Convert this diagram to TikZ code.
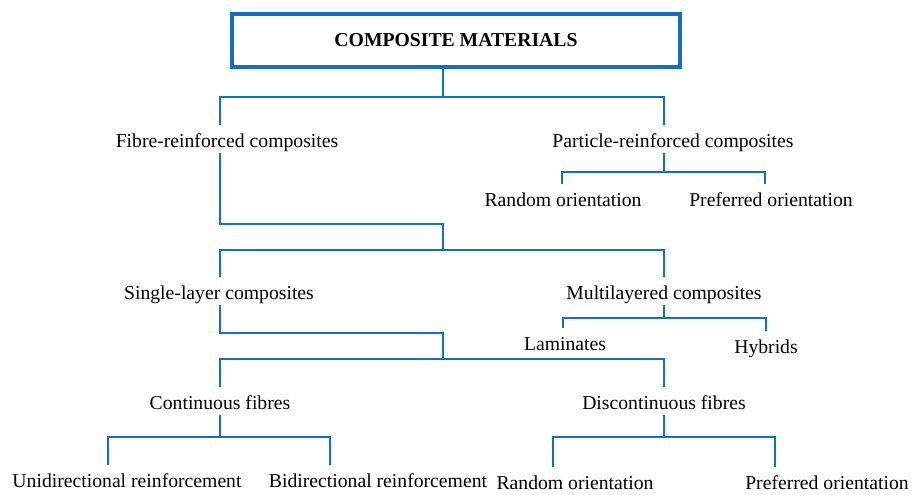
\documentclass[tikz,border=0pt]{standalone}
\usepackage{fontspec}
\setmainfont{Liberation Serif}
\usetikzlibrary{calc}
\definecolor{lineblue}{RGB}{16,112,196}
\tikzset{
  lbl/.style={inner sep=0pt,anchor=base,text height=0.55cm,text depth=0.15cm,
    font=\fontsize{14}{16}\selectfont},
  conn/.style={draw=lineblue,line width=2.1pt},
  titlebox/.style={draw=lineblue,line width=2.5pt,inner sep=0pt,
    minimum width=11.2cm,minimum height=1.325cm,
    font=\fontsize{14}{16}\selectfont\bfseries}
}

\begin{document}
\begin{tikzpicture}[x=0.025cm,y=-0.025cm]
\useasboundingbox (0,0) rectangle (913,494);

% first level
\node[titlebox] (cm) at (456,40.5) {COMPOSITE MATERIALS};
\coordinate (j1) at (443,97);
\coordinate (b1l) at (220,97);
\coordinate (b1r) at (664,97);
\node[lbl] (frc) at (227,147) {Fibre-reinforced composites};
\node[lbl] (prc) at (673,147) {Particle-reinforced composites};
\draw[conn] (cm.south -| j1) -- (j1);
\draw[conn] (frc.north -| b1l) -- (b1l) -- (b1r) -- (prc.north -| b1r);

% particles
\coordinate (b2l) at (562,172);
\coordinate (b2r) at (765,172);
\node[lbl] (ro1) at (563,206) {Random orientation};
\node[lbl] (po1) at (771,206) {Preferred orientation};
\draw[conn] (prc.south -| b1r) -- (b1r |- b2l);
\draw[conn] (ro1.north -| b2l) -- (b2l) -- (b2r) -- (po1.north -| b2r);

% fibres
\coordinate (k3) at (443,224);
\coordinate (b3l) at (220,250);
\coordinate (b3r) at (664,250);
\node[lbl] (slc) at (219,299) {Single-layer composites};
\node[lbl] (mlc) at (664,299) {Multilayered composites};
\draw[conn] (frc.south -| b3l) |- (k3) -- (k3 |- b3l);
\draw[conn] (slc.north -| b3l) -- (b3l) -- (b3r) -- (mlc.north -| b3r);

% multilayered
\coordinate (b4l) at (563,318);
\coordinate (b4r) at (766,318);
\node[lbl] (lam) at (565,350) {Laminates};
\node[lbl] (hyb) at (766,353) {Hybrids};
\draw[conn] (mlc.south) -- (mlc.south |- b4l);
\draw[conn] (lam.north -| b4l) -- (b4l) -- (b4r) -- (hyb.north -| b4r);

% single-layer
\coordinate (k5) at (443,333);
\coordinate (b5l) at (220,359);
\coordinate (b5r) at (664,359);
\node[lbl] (cf) at (220,409) {Continuous fibres};
\node[lbl] (dcf) at (664,409) {Discontinuous fibres};
\draw[conn] (slc.south -| b5l) |- (k5) -- (k5 |- b5l);
\draw[conn] (cf.north -| b5l) -- (b5l) -- (b5r) -- (dcf.north -| b5r);

% continuous / discontinuous
\coordinate (b6l) at (108,437);
\coordinate (b6r) at (330,437);
\node[lbl] (uni) at (127,487) {Unidirectional reinforcement};
\node[lbl] (bi) at (378,487) {Bidirectional reinforcement};
\draw[conn] (cf.south) -- (cf.south |- b6l);
\draw[conn] (uni.north -| b6l) -- (b6l) -- (b6r) -- (bi.north -| b6r);

\coordinate (b7l) at (553,437);
\coordinate (b7r) at (775,437);
\node[lbl] (ro2) at (575,489) {Random orientation};
\node[lbl] (po2) at (827,489) {Preferred orientation};
\draw[conn] (dcf.south) -- (dcf.south |- b7l);
\draw[conn] (ro2.north -| b7l) -- (b7l) -- (b7r) -- (po2.north -| b7r);

\end{tikzpicture}
\end{document}
